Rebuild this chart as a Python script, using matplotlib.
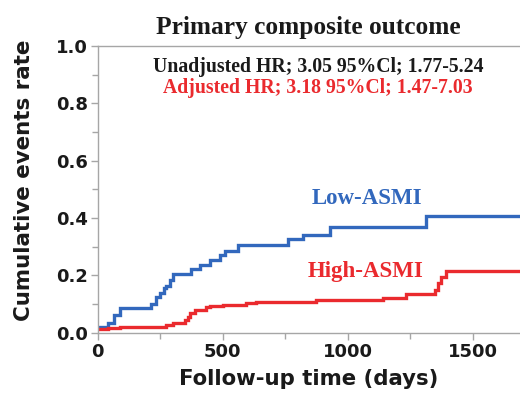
import matplotlib
matplotlib.use("Agg")
import matplotlib.pyplot as plt
from matplotlib.ticker import MultipleLocator

# Low-ASMI (blue) step curve: event days and cumulative rate after each step
low_days = [0, 41, 67, 88, 215, 235, 250, 265, 275, 290, 301, 375, 408, 448, 488, 508, 561, 761, 821, 928, 1315, 1690]
low_rate = [0.022, 0.036, 0.063, 0.086, 0.100, 0.124, 0.138, 0.156, 0.165, 0.185, 0.204, 0.222, 0.237, 0.254, 0.272, 0.287, 0.307, 0.326, 0.342, 0.370, 0.408, 0.408]

# High-ASMI (red) step curve
high_days = [0, 41, 88, 275, 301, 348, 361, 370, 388, 435, 448, 501, 595, 635, 875, 1141, 1235, 1348, 1361, 1375, 1395, 1690]
high_rate = [0.013, 0.018, 0.022, 0.028, 0.033, 0.045, 0.057, 0.069, 0.080, 0.089, 0.094, 0.098, 0.103, 0.107, 0.113, 0.121, 0.136, 0.150, 0.173, 0.196, 0.217, 0.217]

x_ticks = [0, 500, 1000, 1500]
y_ticks = [0.0, 0.2, 0.4, 0.6, 0.8, 1.0]

BLUE = "#3268bd"
RED = "#ea2a2e"
GREY = "#a6a6a6"

fig = plt.figure(figsize=(5.2, 3.93), dpi=100)
ax = fig.add_axes([0.188, 0.153, 0.812, 0.730])

ax.step(low_days, low_rate, where="post", color=BLUE, lw=2.4, solid_joinstyle="miter")
ax.step(high_days, high_rate, where="post", color=RED, lw=2.4, solid_joinstyle="miter")

ax.set_xlim(0, 1690)
ax.set_ylim(0, 1.0)
ax.set_xticks(x_ticks)
ax.set_yticks(y_ticks)
ax.set_yticklabels([f"{v:.1f}" for v in y_ticks])
ax.xaxis.set_minor_locator(MultipleLocator(250))
ax.yaxis.set_minor_locator(MultipleLocator(0.1))

for s in ["right"]:
    ax.spines[s].set_visible(False)
for s in ["left", "bottom", "top"]:
    ax.spines[s].set_color(GREY)
    ax.spines[s].set_linewidth(1.0)

ax.tick_params(which="both", direction="out", color=GREY, width=1.0)
ax.tick_params(which="major", length=5)
ax.tick_params(which="minor", length=4)
ax.tick_params(axis="x", which="minor", top=False)
ax.tick_params(axis="both", labelsize=13, pad=2)
for lab in ax.get_xticklabels() + ax.get_yticklabels():
    lab.set_fontweight("bold")
    lab.set_color("#1a1a1a")

ax.set_xlabel("Follow-up time (days)", fontsize=15.3, fontweight="bold", color="#1a1a1a", labelpad=6)
fig.text(0.046, 0.54, "Cumulative events rate", rotation=90, ha="center", va="center",
         fontsize=15.4, fontweight="bold", color="#1a1a1a")

serif = ["Liberation Serif", "DejaVu Serif"]
ax.text(1076, 0.47, "Low-ASMI", color=BLUE, ha="center", va="center",
        fontsize=16.5, fontweight="bold", family=serif)
ax.text(1072, 0.213, "High-ASMI", color=RED, ha="center", va="center",
        fontsize=16.5, fontweight="bold", family=serif)

fig.text(0.592, 0.931, "Primary composite outcome", ha="center", va="center",
         fontsize=18.3, fontweight="bold", family=serif, color="#1a1a1a")
fig.text(0.612, 0.830, "Unadjusted HR; 3.05 95%Cl; 1.77-5.24", ha="center", va="center",
         fontsize=14.2, fontweight="bold", family=serif, color="#1a1a1a")
fig.text(0.612, 0.776, "Adjusted HR; 3.18 95%Cl; 1.47-7.03", ha="center", va="center",
         fontsize=14.2, fontweight="bold", family=serif, color=RED)

fig.savefig("out.png", dpi=100)
